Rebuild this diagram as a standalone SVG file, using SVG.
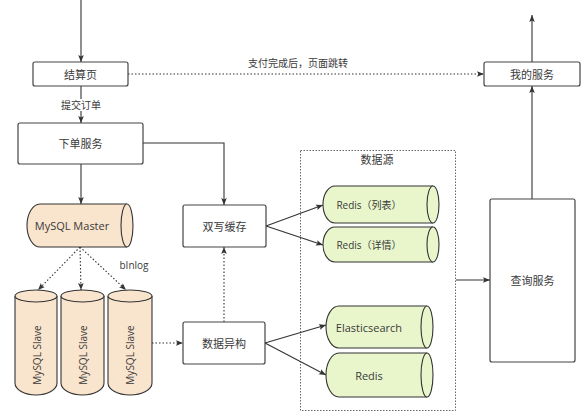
<svg xmlns="http://www.w3.org/2000/svg" width="588" height="414" viewBox="0 0 588 414">
<defs>
<marker id="ah" viewBox="0 0 10 10" refX="10" refY="5" markerWidth="7" markerHeight="7" markerUnits="userSpaceOnUse" orient="auto">
<path d="M0,1 L10,5 L0,9 L2,5 Z" fill="#333"/>
</marker>
<style>
.box{fill:#fff;stroke:#444;stroke-width:1.2}
.t{font-family:"Open Sans","Noto Sans CJK SC",sans-serif;font-size:11px;fill:#3a3a3a;text-anchor:middle;dominant-baseline:central}
.sm{font-size:10px}
.db{fill:#F9E4CD;stroke:#333;stroke-width:1.1}
.rd{fill:#E9F6CC;stroke:#333;stroke-width:1.1}
.ln{fill:none;stroke:#333;stroke-width:1.1;marker-end:url(#ah)}
.dot{fill:none;stroke:#333;stroke-width:1.1;stroke-dasharray:1.5 2;marker-end:url(#ah)}
</style>
</defs>
<rect width="588" height="414" fill="#fff"/>

<g id="datasource">
<rect x="300.5" y="150.5" width="155" height="260" fill="none" stroke="#555" stroke-width="0.9" stroke-dasharray="1.5 1.5"/>
<text class="t" x="377" y="159">数据源</text>
</g>

<g id="connectors">
<path class="ln" d="M81,0 L81,62"/>
<path class="ln" d="M81,86 L81,123"/>
<rect x="60" y="99" width="42" height="12" fill="#fff"/>
<text class="t sm" x="81" y="105">提交订单</text>
<path class="ln" d="M81,164 L81,204"/>
<path class="ln" d="M143,143 L224,143 L224,205"/>
<path class="dot" d="M80,247 L38,290"/>
<path class="dot" d="M80,247 L81,290"/>
<path class="dot" d="M80,247 L126,290"/>
<text class="t sm" x="134" y="265">bInlog</text>
<path class="dot" d="M152,343 L183,343"/>
<path class="dot" d="M224,322 L224,247"/>
<path class="ln" d="M266,226 L323,205"/>
<path class="ln" d="M266,226 L323,245"/>
<path class="ln" d="M265,343 L326,325"/>
<path class="ln" d="M265,343 L326,375"/>
<path class="ln" d="M456,280 L490,280"/>
<path class="ln" d="M532,199 L532,86"/>
<path class="ln" d="M532,62 L532,15"/>
<path class="dot" d="M128,74 L484,74"/>
<text class="t sm" x="298" y="63">支付完成后，页面跳转</text>
</g>

<g id="jiesuan">
<rect class="box" x="33" y="62" width="95" height="24" rx="2"/>
<text class="t" x="80.5" y="74">结算页</text>
</g>
<g id="xiadan">
<rect class="box" x="18" y="123" width="125" height="41" rx="2"/>
<text class="t" x="80.5" y="143.5">下单服务</text>
</g>
<g id="wode">
<rect class="box" x="484" y="62" width="96" height="24" rx="2"/>
<text class="t" x="532" y="74">我的服务</text>
</g>
<g id="chaxun">
<rect class="box" x="490" y="199" width="85" height="163" rx="2"/>
<text class="t" x="532.5" y="280.5">查询服务</text>
</g>
<g id="shuangxie">
<rect class="box" x="183" y="205" width="83" height="42" rx="2"/>
<text class="t" x="224.5" y="226">双写缓存</text>
</g>
<g id="yigou">
<rect class="box" x="183" y="322" width="82" height="42" rx="2"/>
<text class="t" x="224" y="343">数据异构</text>
</g>

<g id="master">
<path class="db" d="M127,204 L40,204 A13,21.5 0 0 0 40,247 L127,247"/>
<ellipse class="db" cx="127" cy="225.5" rx="6" ry="21.5"/>
<text class="t" x="72" y="225.5">MySQL Master</text>
</g>

<g id="slave1">
<path class="db" d="M15,296 L15,383 A21,12 0 0 0 57,383 L57,296"/>
<ellipse class="db" cx="36" cy="296" rx="21" ry="6"/>
<text class="t sm" transform="translate(37,355) rotate(-90)">MySQL Slave</text>
</g>
<g id="slave2">
<path class="db" d="M61,296 L61,383 A21.5,12 0 0 0 104,383 L104,296"/>
<ellipse class="db" cx="82.5" cy="296" rx="21.5" ry="6"/>
<text class="t sm" transform="translate(83,355) rotate(-90)">MySQL Slave</text>
</g>
<g id="slave3">
<path class="db" d="M108,296 L108,383 A22,12 0 0 0 152,383 L152,296"/>
<ellipse class="db" cx="130" cy="296" rx="22" ry="6"/>
<text class="t sm" transform="translate(130,355) rotate(-90)">MySQL Slave</text>
</g>

<g id="redis-list">
<path class="rd" d="M433,186 L335,186 A12,18.5 0 0 0 335,223 L433,223"/>
<ellipse class="rd" cx="433" cy="204.5" rx="6" ry="18.5"/>
<text class="t sm" x="369" y="205">Redis（列表）</text>
</g>
<g id="redis-detail">
<path class="rd" d="M433,227 L335,227 A12,17.5 0 0 0 335,262 L433,262"/>
<ellipse class="rd" cx="433" cy="244.5" rx="6" ry="17.5"/>
<text class="t sm" x="369" y="245">Redis（详情）</text>
</g>
<g id="es">
<path class="rd" d="M427,306 L339,306 A13,21 0 0 0 339,348 L427,348"/>
<ellipse class="rd" cx="427" cy="327" rx="6" ry="21"/>
<text class="t" x="369" y="327">Elasticsearch</text>
</g>
<g id="redis">
<path class="rd" d="M427,353 L339,353 A13,22 0 0 0 339,397 L427,397"/>
<ellipse class="rd" cx="427" cy="375" rx="6" ry="22"/>
<text class="t" x="369" y="375">Redis</text>
</g>
</svg>
